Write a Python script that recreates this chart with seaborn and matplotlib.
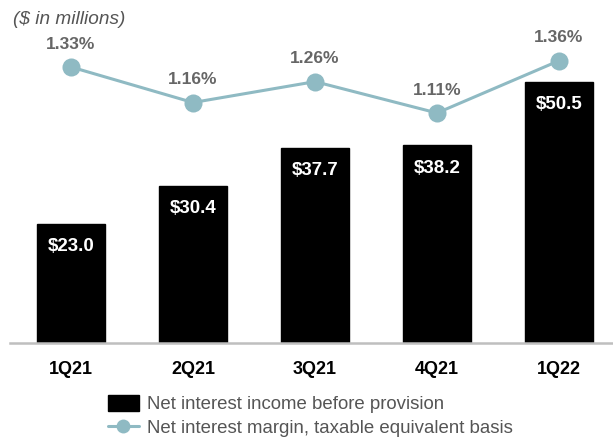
import numpy as np
import pandas as pd
import seaborn as sns
import matplotlib
matplotlib.use("Agg")
import matplotlib.pyplot as plt
from matplotlib.lines import Line2D
from matplotlib.patches import Patch

quarters = ["1Q21", "2Q21", "3Q21", "4Q21", "1Q22"]
nii = [23.0, 30.4, 37.7, 38.2, 50.5]
nim = [1.33, 1.16, 1.26, 1.11, 1.36]
bar_labels = ["$23.0", "$30.4", "$37.7", "$38.2", "$50.5"]
nim_labels = ["1.33%", "1.16%", "1.26%", "1.11%", "1.36%"]

sns.set_theme(style="white")
plt.rcParams["font.family"] = ["Liberation Sans", "DejaVu Sans"]

W, H = 613, 437
fig = plt.figure(figsize=(W / 100, H / 100), dpi=100)
fig.patch.set_facecolor("white")
ax = fig.add_axes([10 / W, 94 / H, 603 / W, 343 / H])

df = pd.DataFrame({"q": quarters, "nii": nii, "nim": nim})
sns.barplot(data=df, x="q", y="nii", color="black", width=0.55, ax=ax,
            saturation=1, edgecolor="black")
ax.set_xlim(-0.5, -0.5 + 603 / 122)
ax.set_ylim(0, 66.3)
for s in ["left", "right", "top"]:
    ax.spines[s].set_visible(False)
ax.spines["bottom"].set_color("#BFBFBF")
ax.spines["bottom"].set_linewidth(1.8)
ax.set_yticks([])
ax.set_xlabel("")
ax.set_ylabel("")
ax.tick_params(axis="x", length=0, pad=13)
for lab in ax.get_xticklabels():
    lab.set_fontweight("bold")
    lab.set_fontsize(13)
    lab.set_color("black")

for i, (v, t) in enumerate(zip(nii, bar_labels)):
    ax.annotate(t, (i, v), xytext=(0, -16.5), textcoords="offset points",
                ha="center", va="center", color="white", fontweight="bold",
                fontsize=13.5)

ax2 = ax.twinx()
line_color = "#8FBAC3"
sns.lineplot(x=np.arange(len(nim)), y=nim, ax=ax2, color=line_color,
             linewidth=2.2, marker="o", markersize=13, markeredgewidth=0,
             markerfacecolor=line_color)
ax2.set_ylim(1.33 - 276 / 209, 1.33 + 67 / 209)
ax2.set_yticks([])
for s in ["left", "right", "top", "bottom"]:
    ax2.spines[s].set_visible(False)
for i, (v, t) in enumerate(zip(nim, nim_labels)):
    ax2.annotate(t, (i, v), xytext=(0, 16.5), textcoords="offset points",
                 ha="center", va="center", color="#666666", fontweight="bold",
                 fontsize=12.5)

fig.text(13 / W, 1 - 20 / H, "($ in millions)", style="italic",
         color="#555555", fontsize=13.7, ha="left", va="center")

handles = [Patch(facecolor="black", edgecolor="black"),
           Line2D([0], [0], color=line_color, lw=2.2, marker="o",
                  markersize=10, markeredgewidth=0)]
labels = ["Net interest income before provision",
          "Net interest margin, taxable equivalent basis"]
fig.legend(handles, labels, loc="center left",
           bbox_to_anchor=(108 / W, 1 - 416 / H), frameon=False,
           fontsize=13.4, labelcolor="#555555", handlelength=1.65,
           handleheight=1.0, handletextpad=0.45, labelspacing=0.3,
           borderpad=0, borderaxespad=0)

fig.savefig("out.png", dpi=100, facecolor="white")
